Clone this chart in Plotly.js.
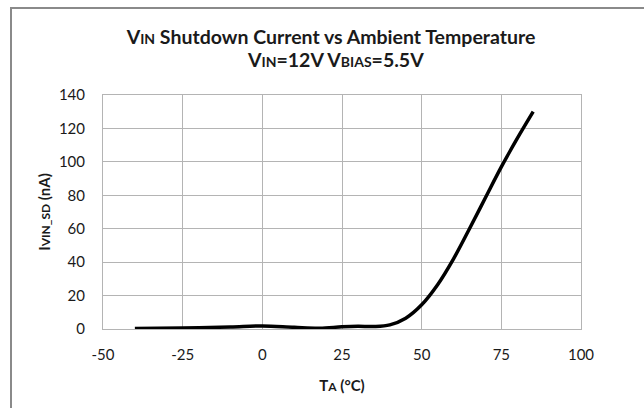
<!DOCTYPE html>
<html>
<head>
<meta charset="utf-8">
<script src="https://cdn.plot.ly/plotly-3.0.1.min.js"></script>
<style>
  html, body { margin: 0; padding: 0; background: #fff; overflow: hidden; }
  #chart { width: 644px; height: 408px; }
  #frame { position: absolute; left: 10px; top: 7px; width: 700px; height: 500px;
           border-top: 2px solid #8a8a8a; border-left: 2px solid #8a8a8a; pointer-events: none; }
</style>
</head>
<body>
<div id="chart"></div>
<div id="frame"></div>
<script>
// Data
const temperatureC = [-40, -25, -10, 0, 10, 18, 25, 30, 35, 40, 45, 50, 55, 60, 65, 70, 75, 80, 85];
const shutdownCurrent_nA = [0.3, 0.6, 1.2, 1.8, 1.0, 0.5, 1.3, 1.6, 1.5, 2.5, 6.5, 14.5, 26.5, 42, 60, 78.5, 97, 114, 130];
const xTickValues = [-50, -25, 0, 25, 50, 75, 100];
const yTickValues = [0, 20, 40, 60, 80, 100, 120, 140];

const FONT = 'Lato, "Open Sans", sans-serif';
const GRID = '#b4b4b4';

const trace = {
  x: temperatureC,
  y: shutdownCurrent_nA,
  type: 'scatter',
  mode: 'lines',
  line: { color: '#000000', width: 3.5, shape: 'spline', smoothing: 1 },
  hoverinfo: 'skip'
};

const layout = {
  width: 644, height: 408,
  margin: { l: 103, r: 63, t: 95, b: 79 },
  paper_bgcolor: '#ffffff', plot_bgcolor: '#ffffff',
  showlegend: false,
  font: { family: FONT, size: 15, color: '#1a1a1a' },
  title: {
    text: '<b>V<span style="font-size:14px">IN</span> Shutdown Current vs Ambient Temperature</b>',
    font: { family: FONT, size: 19.5, color: '#1a1a1a' },
    x: 0.514, xref: 'container', xanchor: 'center',
    y: 1 - 30 / 408, yref: 'container', yanchor: 'top'
  },
  annotations: [{
    text: '<b>V<span style="font-size:14px">IN</span>=12V V<span style="font-size:14px">BIAS</span>=5.5V</b>',
    font: { family: FONT, size: 19.5, color: '#1a1a1a' },
    xref: 'paper', yref: 'paper', x: 0.487, y: 1.15,
    xanchor: 'center', yanchor: 'middle', showarrow: false
  }],
  xaxis: {
    range: [-50, 100], tickvals: xTickValues, ticktext: xTickValues.map(String),
    showgrid: true, gridcolor: GRID, gridwidth: 1,
    showline: true, linecolor: GRID, linewidth: 1, mirror: true,
    zeroline: false, ticks: '', ticklabelstandoff: 12,
    tickfont: { family: FONT, size: 15, color: '#1a1a1a' },
    title: { text: '<b>T<span style="font-size:12px">A</span> (°C)</b>', font: { family: FONT, size: 15, color: '#1a1a1a' }, standoff: 18 }
  },
  yaxis: {
    range: [0, 140], tickvals: yTickValues, ticktext: yTickValues.map(String),
    showgrid: true, gridcolor: GRID, gridwidth: 1,
    showline: true, linecolor: GRID, linewidth: 1, mirror: true,
    zeroline: false, ticks: '', ticklabelstandoff: 14,
    tickfont: { family: FONT, size: 15, color: '#1a1a1a' },
    title: { text: '<b>I<span style="font-size:12px">VIN_SD</span> (nA)</b>', font: { family: FONT, size: 15, color: '#1a1a1a' }, standoff: 4 }
  }
};

Plotly.newPlot('chart', [trace], layout, { staticPlot: true, displayModeBar: false });
</script>
</body>
</html>
